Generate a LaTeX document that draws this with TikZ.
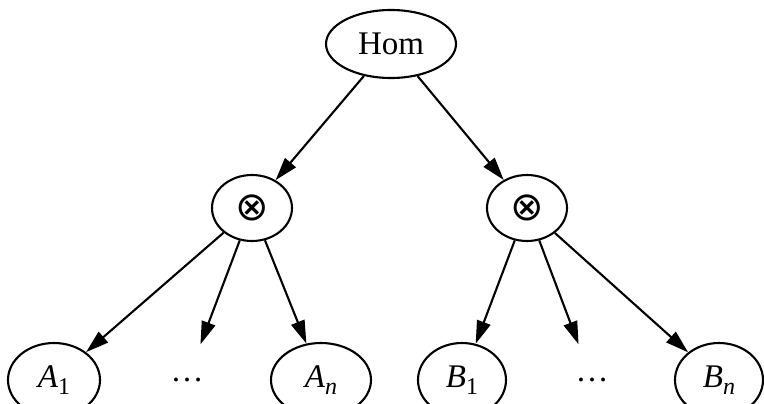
\documentclass[tikz,border=0pt]{standalone}
\usepackage{fontspec}
\setmainfont{Liberation Serif}
\newfontfamily\symfont{DejaVu Sans}
\usetikzlibrary{arrows.meta,shapes.geometric}
\newcommand\mysub[1]{\raisebox{-0.22em}{\fontsize{24}{24}\selectfont #1}}
\newcommand\mytimes{{\symfont\fontsize{40}{40}\selectfont ⊗}}
\begin{document}
\begin{tikzpicture}[x=1pt,y=1pt,
  every node/.style={font=\fontsize{33}{33}\selectfont},
  oval/.style={draw, ellipse, line width=2.1pt, inner sep=0pt},
  ghost/.style={ellipse, inner sep=0pt, minimum width=92pt, minimum height=74pt},
  edge/.style={line width=2.1pt, -{Triangle[length=23pt,width=14pt]}}]
\useasboundingbox (0,0) rectangle (764,-404);
\node[oval, minimum width=130pt, minimum height=68pt] (hom) at (391,-44) {Hom};
\node[oval, minimum width=80pt, minimum height=66pt] (l) at (252,-208) {\mytimes};
\node[oval, minimum width=80pt, minimum height=66pt] (r) at (527,-208) {\mytimes};
\node[oval, minimum width=92pt, minimum height=74pt] (a1) at (54,-380) {\textit{A}\mysub{1}};
\node[ghost] (ld) at (187,-380) {\ldots};
\node[oval, minimum width=100pt, minimum height=74pt] (an) at (321,-380) {\textit{A}\mysub{\textit{n}}};
\node[oval, minimum width=88pt, minimum height=74pt] (b1) at (462,-380) {\textit{B}\mysub{1}};
\node[ghost] (rd) at (592,-380) {\ldots};
\node[oval, minimum width=88pt, minimum height=74pt] (bn) at (719,-380) {\textit{B}\mysub{\textit{n}}};
\draw[edge] (hom) -- (l);
\draw[edge] (hom) -- (r);
\draw[edge] (l) -- (a1);
\draw[edge] (l) -- (ld);
\draw[edge] (l) -- (an);
\draw[edge] (r) -- (b1);
\draw[edge] (r) -- (rd);
\draw[edge] (r) -- (bn);
\end{tikzpicture}
\end{document}
